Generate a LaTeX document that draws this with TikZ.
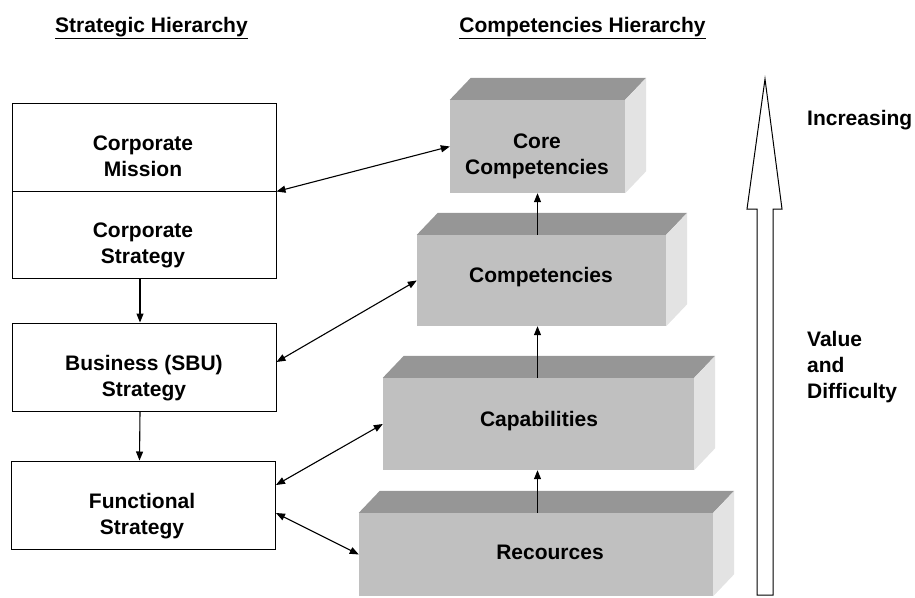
\documentclass[tikz,border=0pt]{standalone}
\usepackage{fontspec}
\setmainfont{Liberation Sans}
\usetikzlibrary{arrows.meta,calc}
\definecolor{frontgray}{HTML}{C0C0C0}
\definecolor{topgray}{HTML}{969696}
\definecolor{sidegray}{HTML}{E3E3E3}
\newcommand\mycuboid[5]{%
  \node[front, minimum width={(#4-#2)*1pt}, minimum height={(#5-#3)*1pt}] (#1) at ({(#2+#4)/2},{(#3+#5)/2}) {};
  \fill[topgray] (#1.north west) -- ++(21,-22) -- ($(#1.north east)+(21,-22)$) -- (#1.north east) -- cycle;
  \fill[sidegray] (#1.north east) -- ++(21,-22) -- ($(#1.south east)+(21,-22)$) -- (#1.south east) -- cycle;
}
\begin{document}
\begin{tikzpicture}[x=1pt,y=-1pt,
  lbl/.style={font=\fontsize{21}{26}\selectfont\bfseries, inner sep=0pt, align=center, anchor=base},
  lbll/.style={font=\fontsize{21}{26}\selectfont\bfseries, inner sep=0pt, align=left, anchor=base west},
  sbox/.style={draw=black, line width=1pt, fill=white, inner sep=0pt, minimum width=264pt},
  front/.style={fill=frontgray, inner sep=0pt},
  con/.style={line width=1.1pt, {Triangle[length=9pt,width=7pt]}-{Triangle[length=9pt,width=7pt]}},
  up/.style={line width=1.1pt, -{Triangle[length=9pt,width=7pt]}},
]
\useasboundingbox (0,0) rectangle (915,597);

% left hierarchy boxes
\node[sbox, minimum height=88pt] (mission) at (144,147) {};
\node[sbox, minimum height=87pt] (cstrat) at (144,234.5) {};
\node[sbox, minimum height=88pt] (sbu) at (144,367) {};
\node[sbox, minimum height=88pt] (func) at (143.5,505) {};

% cuboids
\mycuboid{core}{450}{100}{625}{193}
\mycuboid{comp}{417}{235}{666}{326}
\mycuboid{capab}{383}{378}{694}{470}
\mycuboid{rec}{359}{513}{713}{596}

% texts (base anchor = baseline of last line)
\node[lbl] (h1) at (151.5,32) {\underline{Strategic Hierarchy}};
\node[lbl] (h2) at (582.5,32) {\underline{Competencies Hierarchy}};
\node[lbl] (tmission) at (143,176) {Corporate\\Mission};
\node[lbl] (tcstrat) at (143,263) {Corporate\\Strategy};
\node[lbl] (tsbu) at (144,396) {Business (SBU)\\Strategy};
\node[lbl] (tfunc) at (142,534) {Functional\\Strategy};
\node[lbl] (tcore) at (537,174) {Core\\Competencies};
\node[lbl] (tcomp) at (541,282) {Competencies};
\node[lbl] (tcapab) at (539,426) {Capabilities};
\node[lbl] (trec) at (550,559) {Recources};
\node[lbll] (tinc) at (807,125) {Increasing};
\node[lbll] (tval) at (807,398) {Value\\and\\Difficulty};

% connectors
\draw[con] (mission.south east) -- (core.west);
\draw[con] ([yshift=5pt]sbu.east) -- (comp.west);
\draw[con] ([yshift=20pt]func.east) -- (capab.west);
\draw[con] ([yshift=-8pt]func.east) -- (rec.west);
\draw[up] ([xshift=-4pt]cstrat.south) -- ([xshift=-4pt]sbu.north);
\draw[up] ([xshift=-4pt]sbu.south) -- ([xshift=-4pt]func.north);
\draw[up] (rec.north -| core.south) -- (capab.south -| core.south);
\draw[up] (capab.north -| core.south) -- (comp.south -| core.south);
\draw[up] (comp.north -| core.south) -- (core.south);

% big hollow arrow
\draw[line width=1pt, line join=miter] (757,595) -- (757,209) -- (747,209) -- (765,79) -- (782,209) -- (773,209) -- (773,595) -- cycle;
\end{tikzpicture}
\end{document}
